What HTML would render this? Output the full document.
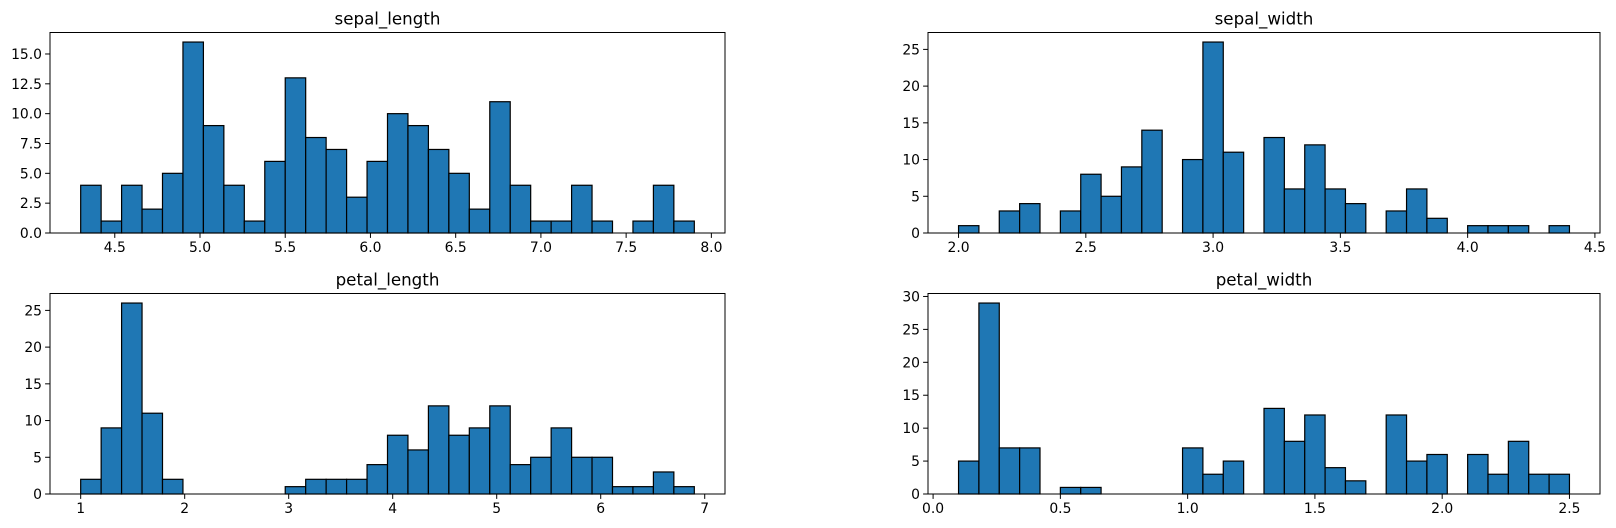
<!DOCTYPE html>
<html><head><meta charset="utf-8"><style>body{margin:0;background:#fff}svg{display:block}text{font-family:"DejaVu Sans","Liberation Sans",sans-serif;fill:#000}</style></head>
<body>
<svg id="fig" width="1616" height="528" xmlns="http://www.w3.org/2000/svg"></svg>
<script>
const titles = ["sepal_length","sepal_width","petal_length","petal_width"];
const binStarts = [4.3, 2.0, 1.0, 0.1];
const binEnds = [7.9, 4.4, 6.9, 2.5];
const sepalLengthCounts = [4,1,4,2,5,16,9,4,1,6,13,8,7,3,6,10,9,7,5,2,11,4,1,1,4,1,0,1,4,1];
const sepalWidthCounts = [1,0,3,4,0,3,8,5,9,14,0,10,26,11,0,13,6,12,6,4,0,3,6,2,0,1,1,1,0,1];
const petalLengthCounts = [2,9,26,11,2,0,0,0,0,0,1,2,2,2,4,8,6,12,8,9,12,4,5,9,5,5,1,1,3,1];
const petalWidthCounts = [5,29,7,7,0,1,1,0,0,0,0,7,3,5,0,13,8,12,4,2,0,12,5,6,0,6,3,8,3,3];
const xTickLabels = [["4.5","5.0","5.5","6.0","6.5","7.0","7.5","8.0"],["2.0","2.5","3.0","3.5","4.0","4.5"],["1","2","3","4","5","6","7"],["0.0","0.5","1.0","1.5","2.0","2.5"]];
const yTickLabels = [["0.0","2.5","5.0","7.5","10.0","12.5","15.0"],["0","5","10","15","20","25"],["0","5","10","15","20","25"],["0","5","10","15","20","25","30"]];
const allCounts = [sepalLengthCounts, sepalWidthCounts, petalLengthCounts, petalWidthCounts];
const boxes = [[50,32.5,725,233],[928,32.5,1600,233],[50,293.5,725,494],[928,293.5,1600,494]];
const NS = "http://www.w3.org/2000/svg";
const svg = document.getElementById('fig');
function mk(tag, attrs, parent){const e=document.createElementNS(NS,tag);for(const k in attrs)e.setAttribute(k,attrs[k]);(parent||svg).appendChild(e);return e;}
allCounts.forEach((counts,i)=>{
  const [L,T,R,B]=boxes[i];
  const g=mk('g',{});
  
  
  const lo=binStarts[i], hi=binEnds[i], n=counts.length, w=(hi-lo)/n;
  const m=(hi-lo)*0.05, x0=lo-m, x1=hi+m;
  const ymax=Math.max(...counts)*1.05;
  const xs=v=>L+(v-x0)/(x1-x0)*(R-L);
  const ys=v=>B-v/ymax*(B-T);
  counts.forEach((c,j)=>{
    if(c<=0) return;
    const r=mk('rect',{x:xs(lo+j*w),y:ys(c),width:xs(lo+(j+1)*w)-xs(lo+j*w),height:B-ys(c),fill:'#1f77b4',stroke:'#000','stroke-width':1.2},g);
    
    
  });
  const frame=mk('rect',{x:L,y:T,width:R-L,height:B-T,fill:'none',stroke:'#000','stroke-width':1},g);
  
  
  xTickLabels[i].forEach(lbl=>{
    const x=xs(parseFloat(lbl));
    mk('line',{x1:x,x2:x,y1:B,y2:B+4.9,stroke:'#000','stroke-width':1},g);
    const t=mk('text',{x:x,y:B+19,'text-anchor':'middle','font-size':13.9},g);
    t.textContent=lbl;
    
    
  });
  yTickLabels[i].forEach(lbl=>{
    const y=ys(parseFloat(lbl));
    mk('line',{x1:L-4.9,x2:L,y1:y,y2:y,stroke:'#000','stroke-width':1},g);
    const t=mk('text',{x:L-8,y:y+5,'text-anchor':'end','font-size':13.9},g);
    t.textContent=lbl;
    
    
  });
  const tt=mk('text',{x:(L+R)/2,y:T-8,'text-anchor':'middle','font-size':16.7},g);
  tt.textContent=titles[i];
  
  
});
</script>
</body></html>
